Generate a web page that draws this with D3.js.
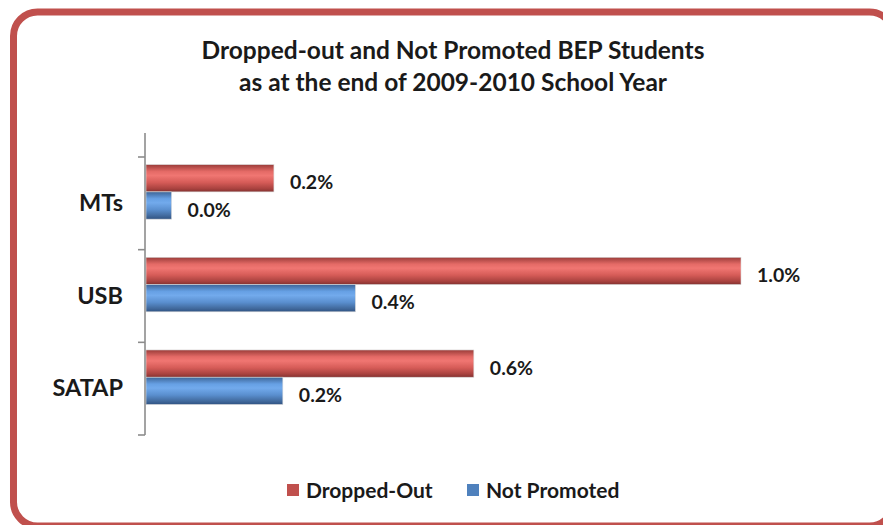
<!DOCTYPE html>
<html>
<head>
<meta charset="utf-8">
<script src="https://cdn.jsdelivr.net/npm/d3@7"></script>
<style>
  html, body { margin: 0; padding: 0; background: #ffffff; }
  svg { display: block; font-family: Lato, "Open Sans", sans-serif; }
</style>
</head>
<body>
<svg id="chart" width="883" height="525"></svg>
<script>
// Categories listed top to bottom
const categories = ["MTs", "USB", "SATAP"];
const seriesNames = ["Dropped-Out", "Not Promoted"];
// Percent of BEP students, per category
const droppedOut = [0.215, 1.0, 0.551];
const notPromoted = [0.043, 0.352, 0.23];
const titleLines = ["Dropped-out and Not Promoted BEP Students",
                    "as at the end of 2009-2010 School Year"];

const W = 883, H = 525;
const svg = d3.select("#chart");
const defs = svg.append("defs");

// Cylinder-like shading for each series
const palettes = {
  "Dropped-Out":  { base: "#C0504D", stops: ["#9A3C39", "#E46A66", "#F07672", "#D65C58", "#A9423F", "#833230"] },
  "Not Promoted": { base: "#4F81BD", stops: ["#3D6597", "#66A0E4", "#72AAEC", "#5A8FCF", "#41699C", "#2F5282"] }
};
const offsets = [0, 0.25, 0.4, 0.65, 0.88, 1];
seriesNames.forEach((s, i) => {
  const g = defs.append("linearGradient")
    .attr("id", "grad" + i).attr("x1", 0).attr("y1", 0).attr("x2", 0).attr("y2", 1);
  palettes[s].stops.forEach((c, k) => g.append("stop").attr("offset", offsets[k]).attr("stop-color", c));
});

// Rounded frame
svg.append("rect")
  .attr("x", 13.5).attr("y", 12)
  .attr("width", 880).attr("height", 514)
  .attr("rx", 24).attr("ry", 24)
  .attr("fill", "#ffffff")
  .attr("stroke", "#C0504D").attr("stroke-width", 7);

// Title
svg.append("text")
  .attr("x", 453).attr("y", 59)
  .attr("text-anchor", "middle")
  .attr("font-size", 24.5).attr("font-weight", "bold").attr("fill", "#1a1a1a")
  .selectAll("tspan").data(titleLines).join("tspan")
  .attr("x", 453).attr("dy", (d, i) => i === 0 ? 0 : 32)
  .text(d => d);

// Scales
const y = d3.scaleBand().domain(categories).range([157, 435]).paddingInner(0).paddingOuter(0);
const ySub = d3.scaleBand().domain(seriesNames).range([0, y.bandwidth()])
  .paddingInner(0).paddingOuter(0.7).align(0.2);
const x = d3.scaleLinear().domain([0, 1.0]).range([146, 741]);

const rows = categories.map((c, i) => ({
  category: c,
  values: [
    { series: seriesNames[0], idx: 0, value: droppedOut[i] },
    { series: seriesNames[1], idx: 1, value: notPromoted[i] }
  ]
}));

const fmt = d => d3.format(".1f")(d) + "%";

// Bars
const groups = svg.append("g").selectAll("g").data(rows).join("g")
  .attr("transform", d => `translate(0,${y(d.category)})`);

groups.selectAll("rect").data(d => d.values).join("rect")
  .attr("x", x(0))
  .attr("y", d => ySub(d.series))
  .attr("width", d => x(d.value) - x(0))
  .attr("height", ySub.bandwidth())
  .attr("fill", d => `url(#grad${d.idx})`)
  .attr("stroke", "#d9d9d9").attr("stroke-width", 0.6);

// Value labels, sitting slightly below each bar's centre line
groups.selectAll("text").data(d => d.values).join("text")
  .attr("x", d => x(d.value) + 16)
  .attr("y", d => ySub(d.series) + ySub.bandwidth() / 2 + 4)
  .attr("dy", "0.36em")
  .attr("font-size", 19.5).attr("font-weight", "bold").attr("fill", "#1a1a1a")
  .text(d => fmt(d.value));

// Category axis
const axisG = svg.append("g").attr("transform", `translate(${x(0) - 1},0)`);
axisG.call(d3.axisLeft(y).tickSize(0).tickPadding(22));
axisG.select(".domain").remove();
axisG.selectAll(".tick text")
  .attr("font-family", "Lato, 'Open Sans', sans-serif")
  .attr("font-size", 23.5).attr("font-weight", "bold").attr("fill", "#1a1a1a");

// Axis line and tick marks between categories
axisG.append("line")
  .attr("x1", 0).attr("x2", 0).attr("y1", 133).attr("y2", 435)
  .attr("stroke", "#8c8c8c").attr("stroke-width", 1.6);
const boundaries = categories.map(c => y(c)).concat([y.range()[1]]);
axisG.selectAll(".sep").data(boundaries).join("line")
  .attr("class", "sep")
  .attr("x1", -7).attr("x2", 0)
  .attr("y1", d => d).attr("y2", d => d)
  .attr("stroke", "#8c8c8c").attr("stroke-width", 1.6);

// Legend
const legend = svg.append("g").attr("transform", "translate(287,490)");
const legendX = [0, 180];
const items = legend.selectAll("g").data(seriesNames).join("g")
  .attr("transform", (d, i) => `translate(${legendX[i]},0)`);
items.append("rect")
  .attr("x", 0).attr("y", -6).attr("width", 12).attr("height", 12)
  .attr("fill", d => palettes[d].base);
items.append("text")
  .attr("x", 19).attr("y", 0).attr("dy", "0.36em")
  .attr("font-size", 21).attr("font-weight", "bold").attr("fill", "#1a1a1a")
  .text(d => d);
</script>
</body>
</html>
